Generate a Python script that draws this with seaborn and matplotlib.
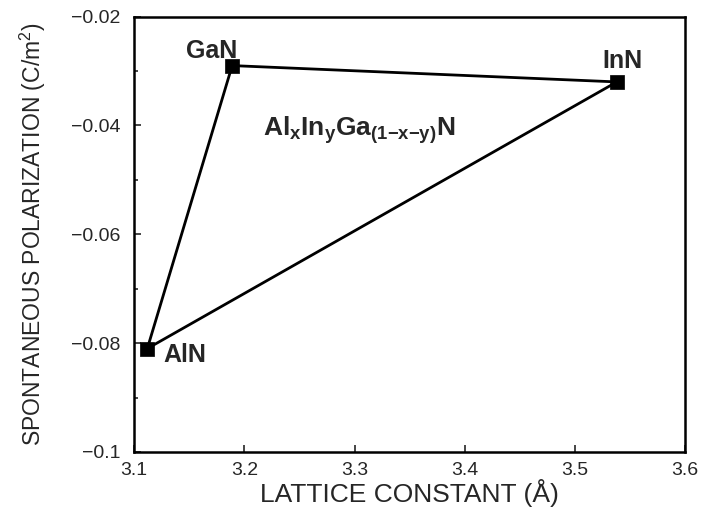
import matplotlib
matplotlib.use("Agg")
import matplotlib.pyplot as plt
import seaborn as sns
import pandas as pd
from matplotlib.ticker import MultipleLocator

# Binary nitrides: lattice constant a (Å) and spontaneous polarization (C/m^2)
materials = ["GaN", "InN", "AlN"]
lattice = [3.189, 3.538, 3.112]
polarization = [-0.029, -0.032, -0.081]

x_ticks = [3.1, 3.2, 3.3, 3.4, 3.5, 3.6]
x_tick_labels = ["3.1", "3.2", "3.3", "3.4", "3.5", "3.6"]
y_ticks = [-0.1, -0.08, -0.06, -0.04, -0.02]
y_tick_labels = ["\u22120.1", "\u22120.08", "\u22120.06", "\u22120.04", "\u22120.02"]

sns.set_style("ticks")
plt.rcParams["font.family"] = ["Liberation Sans", "DejaVu Sans"]
plt.rcParams["mathtext.fontset"] = "custom"
plt.rcParams["mathtext.rm"] = "Liberation Sans"
plt.rcParams["mathtext.bf"] = "Liberation Sans:bold"
plt.rcParams["mathtext.it"] = "Liberation Sans:italic"

points = pd.DataFrame({"material": materials, "a": lattice, "P": polarization})
# closed triangle outline of the alloy composition range
outline = pd.concat([points, points.iloc[[0]]], ignore_index=True)

fig = plt.figure(figsize=(7.02, 5.11), dpi=100)
ax = fig.add_axes([0.191, 0.1155, 0.785, 0.852])

sns.lineplot(data=outline, x="a", y="P", sort=False, estimator=None,
             color="black", linewidth=2.0, ax=ax)
sns.scatterplot(data=points, x="a", y="P", marker="s", s=100,
                color="black", edgecolor="black", linewidth=0.5, ax=ax, zorder=3)

# (dx, dy, horizontal alignment) of each compound's name relative to its marker
label_offsets = {"GaN": (0.005, 0.0026, "right"),
                 "InN": (0.005, 0.0038, "center"),
                 "AlN": (0.015, -0.0012, "left")}
for m, a, p in zip(materials, lattice, polarization):
    dx, dy, ha = label_offsets[m]
    ax.text(a + dx, p + dy, m, ha=ha, va="center",
            fontsize=18, fontweight="bold")

ax.text(3.304, -0.0408, r"$\mathbf{Al_xIn_yGa_{(1{-}x{-}y)}N}$",
        ha="center", va="center", fontsize=19)

ax.set_xlim(3.1, 3.6)
ax.set_ylim(-0.1, -0.02)
ax.set_xticks(x_ticks)
ax.set_xticklabels(x_tick_labels)
ax.set_yticks(y_ticks)
ax.set_yticklabels(y_tick_labels)
ax.yaxis.set_minor_locator(MultipleLocator(0.01))
ax.tick_params(which="both", direction="in", labelsize=14, width=1.2)
ax.tick_params(which="major", length=5)
ax.tick_params(which="minor", length=3)
ax.tick_params(axis="x", pad=7)
ax.tick_params(axis="y", pad=10)

for side in ["left", "right", "top", "bottom"]:
    ax.spines[side].set_visible(True)
    ax.spines[side].set_linewidth(1.8)
    ax.spines[side].set_color("black")

ax.set_xlabel("LATTICE CONSTANT (Å)", fontsize=19, labelpad=0)
ax.set_ylabel(r"SPONTANEOUS POLARIZATION (C/m$^2$)", fontsize=16.5, labelpad=16)

fig.savefig("out.png", dpi=100)
